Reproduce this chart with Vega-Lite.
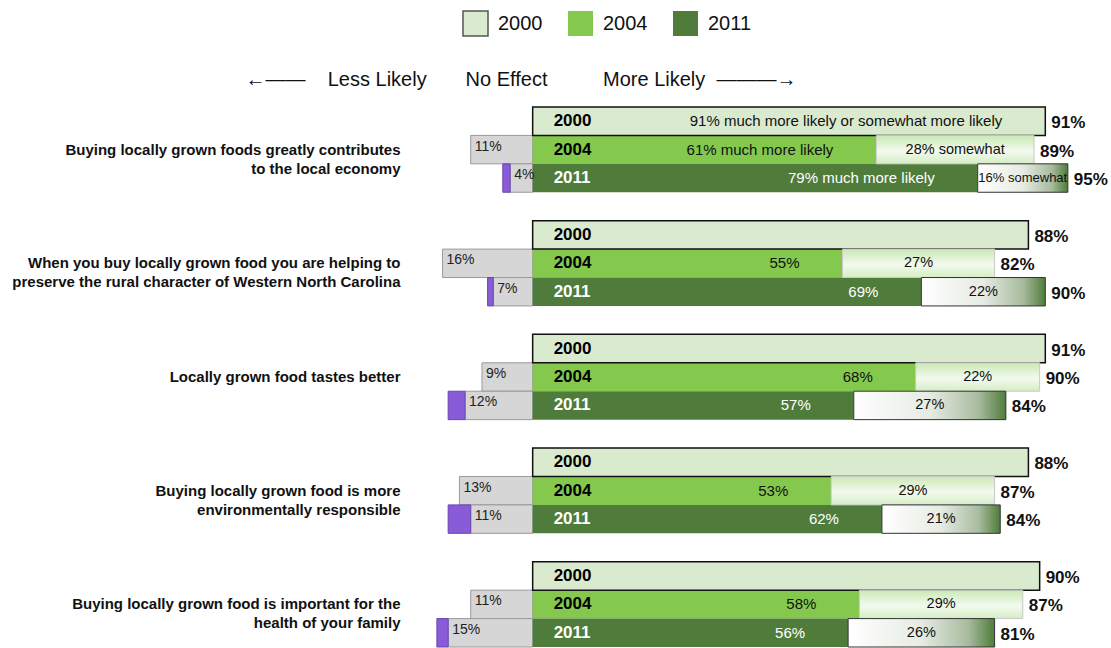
{
  "$schema": "https://vega.github.io/schema/vega-lite/v6.json",
  "width": 676,
  "height": 540,
  "autosize": "none",
  "padding": {"left": 420, "top": 107, "right": 15, "bottom": 1},
  "background": "white",
  "config": {"view": {"stroke": null}, "font": "Liberation Sans"},
  "data": {
    "values": [
      {"q": "Buying locally grown foods greatly contributes\nto the local economy", "year": "2000", "resp": "Much or somewhat more likely", "code": 1, "pct": 91, "lbl": "91% much more likely or somewhat more likely", "tot": "91%"},
      {"q": "Buying locally grown foods greatly contributes\nto the local economy", "year": "2004", "resp": "Much more likely", "code": 1, "pct": 61, "lbl": "61% much more likely"},
      {"q": "Buying locally grown foods greatly contributes\nto the local economy", "year": "2004", "resp": "Somewhat more likely", "code": 2, "pct": 28, "lbl": "28% somewhat", "tot": "89%"},
      {"q": "Buying locally grown foods greatly contributes\nto the local economy", "year": "2004", "resp": "No effect", "code": 3, "pct": -11, "lbl": "11%"},
      {"q": "Buying locally grown foods greatly contributes\nto the local economy", "year": "2011", "resp": "Much more likely", "code": 1, "pct": 79, "lbl": "79% much more likely"},
      {"q": "Buying locally grown foods greatly contributes\nto the local economy", "year": "2011", "resp": "Somewhat more likely", "code": 2, "pct": 16, "lbl": "16% somewhat", "tot": "95%"},
      {"q": "Buying locally grown foods greatly contributes\nto the local economy", "year": "2011", "resp": "No effect", "code": 3, "pct": -4, "lbl": "4%"},
      {"q": "Buying locally grown foods greatly contributes\nto the local economy", "year": "2011", "resp": "Less likely", "code": 4, "pct": -1.3},

      {"q": "When you buy locally grown food you are helping to\npreserve the rural character of Western North Carolina", "year": "2000", "resp": "Much or somewhat more likely", "code": 1, "pct": 88, "tot": "88%"},
      {"q": "When you buy locally grown food you are helping to\npreserve the rural character of Western North Carolina", "year": "2004", "resp": "Much more likely", "code": 1, "pct": 55, "lbl": "55%"},
      {"q": "When you buy locally grown food you are helping to\npreserve the rural character of Western North Carolina", "year": "2004", "resp": "Somewhat more likely", "code": 2, "pct": 27, "lbl": "27%", "tot": "82%"},
      {"q": "When you buy locally grown food you are helping to\npreserve the rural character of Western North Carolina", "year": "2004", "resp": "No effect", "code": 3, "pct": -16, "lbl": "16%"},
      {"q": "When you buy locally grown food you are helping to\npreserve the rural character of Western North Carolina", "year": "2011", "resp": "Much more likely", "code": 1, "pct": 69, "lbl": "69%"},
      {"q": "When you buy locally grown food you are helping to\npreserve the rural character of Western North Carolina", "year": "2011", "resp": "Somewhat more likely", "code": 2, "pct": 22, "lbl": "22%", "tot": "90%"},
      {"q": "When you buy locally grown food you are helping to\npreserve the rural character of Western North Carolina", "year": "2011", "resp": "No effect", "code": 3, "pct": -7, "lbl": "7%"},
      {"q": "When you buy locally grown food you are helping to\npreserve the rural character of Western North Carolina", "year": "2011", "resp": "Less likely", "code": 4, "pct": -1},

      {"q": "Locally grown food tastes better", "year": "2000", "resp": "Much or somewhat more likely", "code": 1, "pct": 91, "tot": "91%"},
      {"q": "Locally grown food tastes better", "year": "2004", "resp": "Much more likely", "code": 1, "pct": 68, "lbl": "68%"},
      {"q": "Locally grown food tastes better", "year": "2004", "resp": "Somewhat more likely", "code": 2, "pct": 22, "lbl": "22%", "tot": "90%"},
      {"q": "Locally grown food tastes better", "year": "2004", "resp": "No effect", "code": 3, "pct": -9, "lbl": "9%"},
      {"q": "Locally grown food tastes better", "year": "2011", "resp": "Much more likely", "code": 1, "pct": 57, "lbl": "57%"},
      {"q": "Locally grown food tastes better", "year": "2011", "resp": "Somewhat more likely", "code": 2, "pct": 27, "lbl": "27%", "tot": "84%"},
      {"q": "Locally grown food tastes better", "year": "2011", "resp": "No effect", "code": 3, "pct": -12, "lbl": "12%"},
      {"q": "Locally grown food tastes better", "year": "2011", "resp": "Less likely", "code": 4, "pct": -3},

      {"q": "Buying locally grown food is more\nenvironmentally responsible", "year": "2000", "resp": "Much or somewhat more likely", "code": 1, "pct": 88, "tot": "88%"},
      {"q": "Buying locally grown food is more\nenvironmentally responsible", "year": "2004", "resp": "Much more likely", "code": 1, "pct": 53, "lbl": "53%"},
      {"q": "Buying locally grown food is more\nenvironmentally responsible", "year": "2004", "resp": "Somewhat more likely", "code": 2, "pct": 29, "lbl": "29%", "tot": "87%"},
      {"q": "Buying locally grown food is more\nenvironmentally responsible", "year": "2004", "resp": "No effect", "code": 3, "pct": -13, "lbl": "13%"},
      {"q": "Buying locally grown food is more\nenvironmentally responsible", "year": "2011", "resp": "Much more likely", "code": 1, "pct": 62, "lbl": "62%"},
      {"q": "Buying locally grown food is more\nenvironmentally responsible", "year": "2011", "resp": "Somewhat more likely", "code": 2, "pct": 21, "lbl": "21%", "tot": "84%"},
      {"q": "Buying locally grown food is more\nenvironmentally responsible", "year": "2011", "resp": "No effect", "code": 3, "pct": -11, "lbl": "11%"},
      {"q": "Buying locally grown food is more\nenvironmentally responsible", "year": "2011", "resp": "Less likely", "code": 4, "pct": -4},

      {"q": "Buying locally grown food is important for the\nhealth of your family", "year": "2000", "resp": "Much or somewhat more likely", "code": 1, "pct": 90, "tot": "90%"},
      {"q": "Buying locally grown food is important for the\nhealth of your family", "year": "2004", "resp": "Much more likely", "code": 1, "pct": 58, "lbl": "58%"},
      {"q": "Buying locally grown food is important for the\nhealth of your family", "year": "2004", "resp": "Somewhat more likely", "code": 2, "pct": 29, "lbl": "29%", "tot": "87%"},
      {"q": "Buying locally grown food is important for the\nhealth of your family", "year": "2004", "resp": "No effect", "code": 3, "pct": -11, "lbl": "11%"},
      {"q": "Buying locally grown food is important for the\nhealth of your family", "year": "2011", "resp": "Much more likely", "code": 1, "pct": 56, "lbl": "56%"},
      {"q": "Buying locally grown food is important for the\nhealth of your family", "year": "2011", "resp": "Somewhat more likely", "code": 2, "pct": 26, "lbl": "26%", "tot": "81%"},
      {"q": "Buying locally grown food is important for the\nhealth of your family", "year": "2011", "resp": "No effect", "code": 3, "pct": -15, "lbl": "15%"},
      {"q": "Buying locally grown food is important for the\nhealth of your family", "year": "2011", "resp": "Less likely", "code": 4, "pct": -2}
    ]
  },
  "transform": [
    {"stack": "pct", "groupby": ["q", "year"], "sort": [{"field": "code", "order": "ascending"}], "as": ["x0", "x1"]},
    {"calculate": "(datum.x0 + datum.x1) / 2", "as": "xm"}
  ],
  "encoding": {
    "y": {
      "field": "q", "type": "nominal", "sort": null,
      "scale": {"paddingInner": 0.25, "paddingOuter": 0},
      "axis": {
        "title": null, "domain": false, "ticks": false, "labelPadding": 20,
        "labelFont": "Liberation Sans", "labelFontSize": 15, "labelFontWeight": "bold",
        "labelColor": "#111", "labelLimit": 0, "labelLineHeight": 19,
        "labelExpr": "split(datum.label, '\\n')"
      }
    },
    "yOffset": {
      "field": "year", "type": "nominal",
      "scale": {"domain": ["2000", "2004", "2011"], "paddingInner": 0, "paddingOuter": 0}
    }
  },
  "layer": [
    {
      "transform": [{"filter": "datum.code == 3"}],
      "mark": {"type": "bar", "fill": "#d6d6d6", "stroke": "#9a9a9a", "strokeWidth": 1},
      "encoding": {
        "x": {
          "field": "x0", "type": "quantitative",
          "scale": {"domain": [-20, 100], "nice": false, "zero": false},
          "axis": {
            "orient": "top", "labels": false, "ticks": false, "domain": false, "grid": false,
            "title": "←——\u00a0\u00a0\u00a0\u00a0Less Likely\u00a0\u00a0\u00a0\u00a0\u00a0\u00a0\u00a0No Effect\u00a0\u00a0\u00a0\u00a0\u00a0\u00a0\u00a0\u00a0\u00a0\u00a0More Likely\u00a0\u00a0———→",
            "titleFont": "Liberation Sans", "titleFontSize": 20, "titleFontWeight": "normal",
            "titleColor": "#111", "titleAnchor": "start", "titleAlign": "left",
            "titleX": -175, "titleY": -28, "titleBaseline": "middle"
          }
        },
        "x2": {"field": "x1"}
      }
    },
    {
      "transform": [{"filter": "datum.code == 4"}],
      "mark": {"type": "bar", "fill": "#8a5bd8", "stroke": "#6a45b0", "strokeWidth": 1},
      "encoding": {
        "x": {"field": "x0", "type": "quantitative", "scale": {"domain": [-20, 100], "nice": false, "zero": false}},
        "x2": {"field": "x1"}
      }
    },
    {
      "transform": [{"filter": "datum.code == 1"}],
      "mark": {"type": "bar"},
      "encoding": {
        "x": {"field": "x0", "type": "quantitative", "scale": {"domain": [-20, 100], "nice": false, "zero": false}},
        "x2": {"field": "x1"},
        "color": {
          "field": "year", "type": "nominal",
          "scale": {"domain": ["2000", "2004", "2011"], "range": ["#d9eacf", "#84c94e", "#4f7c3b"]},
          "legend": {
            "orient": "none", "legendX": 42, "legendY": -97, "direction": "horizontal",
            "title": null, "symbolType": "square", "symbolSize": 625, "symbolOpacity": 1,
            "labelFont": "Liberation Sans", "labelFontSize": 20, "labelColor": "#111",
            "labelOffset": 9, "columnPadding": 22,
            "encode": {"symbols": {"update": {"stroke": {"signal": "datum.label == '2000' ? '#555555' : 'transparent'"}, "strokeWidth": {"value": 1.5}}}}
          }
        }
      }
    },
    {
      "transform": [{"filter": "datum.code == 1 && datum.year == '2000'"}],
      "mark": {"type": "bar", "fill": "transparent", "stroke": "#111111", "strokeWidth": 1.5},
      "encoding": {
        "x": {"field": "x0", "type": "quantitative", "scale": {"domain": [-20, 100], "nice": false, "zero": false}},
        "x2": {"field": "x1"}
      }
    },
    {
      "transform": [{"filter": "datum.code == 2 && datum.year == '2004'"}],
      "mark": {
        "type": "bar", "stroke": "#c8c8c8", "strokeWidth": 1,
        "fill": {"gradient": "linear", "x1": 0, "y1": 0, "x2": 0, "y2": 1,
          "stops": [{"offset": 0, "color": "#cbe8b5"}, {"offset": 0.55, "color": "#f2faee"}, {"offset": 1, "color": "#d5edc4"}]}
      },
      "encoding": {
        "x": {"field": "x0", "type": "quantitative", "scale": {"domain": [-20, 100], "nice": false, "zero": false}},
        "x2": {"field": "x1"}
      }
    },
    {
      "transform": [{"filter": "datum.code == 2 && datum.year == '2011'"}],
      "mark": {
        "type": "bar", "stroke": "#333333", "strokeWidth": 1,
        "fill": {"gradient": "linear", "x1": 0, "y1": 0, "x2": 1, "y2": 0,
          "stops": [{"offset": 0, "color": "#ffffff"}, {"offset": 0.5, "color": "#e6ebe3"}, {"offset": 0.82, "color": "#a8bb9e"}, {"offset": 1, "color": "#4f7c3b"}]}
      },
      "encoding": {
        "x": {"field": "x0", "type": "quantitative", "scale": {"domain": [-20, 100], "nice": false, "zero": false}},
        "x2": {"field": "x1"}
      }
    },
    {
      "transform": [{"filter": "datum.code == 1"}],
      "mark": {"type": "text", "align": "left", "baseline": "middle", "dx": 21, "fontSize": 17, "fontWeight": "bold", "font": "Liberation Sans"},
      "encoding": {
        "x": {"datum": 0, "type": "quantitative", "scale": {"domain": [-20, 100], "nice": false, "zero": false}},
        "text": {"field": "year"},
        "color": {"condition": {"test": "datum.year == '2011'", "value": "#ffffff"}, "value": "#000000"}
      }
    },
    {
      "transform": [{"filter": "datum.code == 1 && datum.lbl"}],
      "mark": {"type": "text", "align": "right", "baseline": "middle", "dx": -43, "fontSize": 15, "font": "Liberation Sans"},
      "encoding": {
        "x": {"field": "x1", "type": "quantitative", "scale": {"domain": [-20, 100], "nice": false, "zero": false}},
        "text": {"field": "lbl"},
        "color": {"condition": {"test": "datum.year == '2011'", "value": "#ffffff"}, "value": "#111111"}
      }
    },
    {
      "transform": [{"filter": "datum.code == 2"}],
      "mark": {"type": "text", "align": "center", "baseline": "middle", "fontSize": 14.5, "font": "Liberation Sans", "color": "#111"},
      "encoding": {
        "x": {"field": "xm", "type": "quantitative", "scale": {"domain": [-20, 100], "nice": false, "zero": false}},
        "text": {"field": "lbl"},
        "size": {"condition": {"test": "length(datum.lbl) > 6 && datum.year == '2011'", "value": 13}, "value": 14.5}
      }
    },
    {
      "transform": [{"filter": "datum.code == 3"}],
      "mark": {"type": "text", "align": "left", "baseline": "middle", "dx": 4, "dy": -3, "fontSize": 14, "font": "Liberation Sans", "color": "#222"},
      "encoding": {
        "x": {"field": "x1", "type": "quantitative", "scale": {"domain": [-20, 100], "nice": false, "zero": false}},
        "text": {"field": "lbl"}
      }
    },
    {
      "transform": [{"filter": "datum.tot"}],
      "mark": {"type": "text", "align": "left", "baseline": "middle", "dx": 6, "dy": 2, "fontSize": 17, "fontWeight": "bold", "font": "Liberation Sans", "color": "#111"},
      "encoding": {
        "x": {"field": "x1", "type": "quantitative", "scale": {"domain": [-20, 100], "nice": false, "zero": false}},
        "text": {"field": "tot"}
      }
    }
  ]
}
